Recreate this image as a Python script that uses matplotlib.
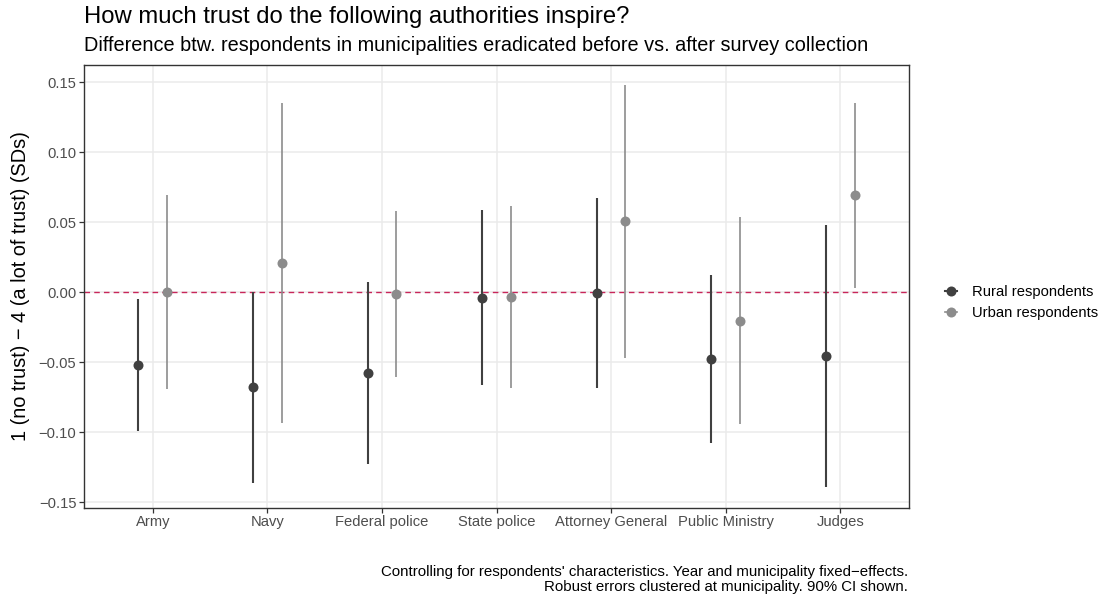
import numpy as np
import matplotlib
matplotlib.use("Agg")
import matplotlib.pyplot as plt
from matplotlib.lines import Line2D

plt.rcParams['font.family'] = ['Liberation Sans', 'DejaVu Sans']

authorities = ["Army", "Navy", "Federal police", "State police",
               "Attorney General", "Public Ministry", "Judges"]

# point estimates and 90% CI bounds
rural_est = [-0.0519, -0.0679, -0.0574, -0.0038, -0.0005, -0.0476, -0.0457]
rural_lo = [-0.0989, -0.1360, -0.1229, -0.0664, -0.0686, -0.1074, -0.1393]
rural_hi = [-0.0050, 0.0000, 0.0076, 0.0586, 0.0676, 0.0121, 0.0480]

urban_est = [0.0000, 0.0207, -0.0014, -0.0034, 0.0509, -0.0203, 0.0695]
urban_lo = [-0.0693, -0.0931, -0.0607, -0.0686, -0.0467, -0.0943, 0.0033]
urban_hi = [0.0695, 0.1350, 0.0580, 0.0614, 0.1480, 0.0538, 0.1352]

series = [("Rural respondents", rural_est, rural_lo, rural_hi, "#404040", -0.125, 1.5),
          ("Urban respondents", urban_est, urban_lo, urban_hi, "#8C8C8C", 0.125, 1.2)]

fig = plt.figure(figsize=(11.06, 6), dpi=100)
ax = fig.add_axes([84 / 1106, 1 - 507.5 / 600, 825 / 1106, 442.5 / 600])

x = np.arange(len(authorities))
ax.axhline(0, color="#C8265A", lw=1.0, ls=(0, (4, 3)), zorder=2)

handles = []
for name, est, lo, hi, col, off, lw in series:
    xs = x + off
    ax.vlines(xs, lo, hi, color=col, lw=lw, zorder=3)
    ax.plot(xs, est, "o", color=col, ms=7.2, mec="none", zorder=4)
    handles.append(Line2D([0], [0], color=col, lw=lw, marker="o", ms=7.2,
                          mec="none"))

# 5% padding around the data range, as in ggplot
lo_all = min(rural_lo + urban_lo)
hi_all = max(rural_hi + urban_hi)
pad = 0.05 * (hi_all - lo_all)
ax.set_xlim(-0.6, len(authorities) - 0.4)
ax.set_ylim(lo_all - pad, hi_all + pad)
ax.set_yticks([-0.15, -0.10, -0.05, 0.00, 0.05, 0.10, 0.15])
ax.set_yticklabels(["\u22120.15", "\u22120.10", "\u22120.05", "0.00", "0.05", "0.10", "0.15"])
ax.set_xticks(x)
ax.set_xticklabels(authorities)

ax.grid(True, color="#EBEBEB", lw=1.1, zorder=0)
ax.set_axisbelow(True)
for s in ax.spines.values():
    s.set_color("#333333")
    s.set_linewidth(1.0)
ax.tick_params(axis="both", colors="#333333", length=3.5, width=0.9,
               labelsize=10.6, labelcolor="#4D4D4D", pad=2)

ax.set_ylabel("1 (no trust) \u2212 4 (a lot of trust) (SDs)", fontsize=14.4,
              labelpad=6)

fig.text(84 / 1106, 1 - 23 / 600, "How much trust do the following authorities inspire?",
         fontsize=17.2, va="baseline")
fig.text(84 / 1106, 1 - 51 / 600,
         "Difference btw. respondents in municipalities eradicated before vs. after survey collection",
         fontsize=14.3, va="baseline")

fig.legend(handles, [s[0] for s in series], loc="center left",
           bbox_to_anchor=(932 / 1106, 1 - 302.5 / 600), frameon=False,
           fontsize=10.6, handlelength=0.8, handletextpad=1.0, labelspacing=0.45)

fig.text(908 / 1106, 1 - 591 / 600,
         "Controlling for respondents' characteristics. Year and municipality fixed\u2212effects.\n"
         "Robust errors clustered at municipality. 90% CI shown.",
         fontsize=10.8, ha="right", va="baseline", multialignment="right",
         linespacing=1.12)

fig.savefig("out.png", dpi=100)
